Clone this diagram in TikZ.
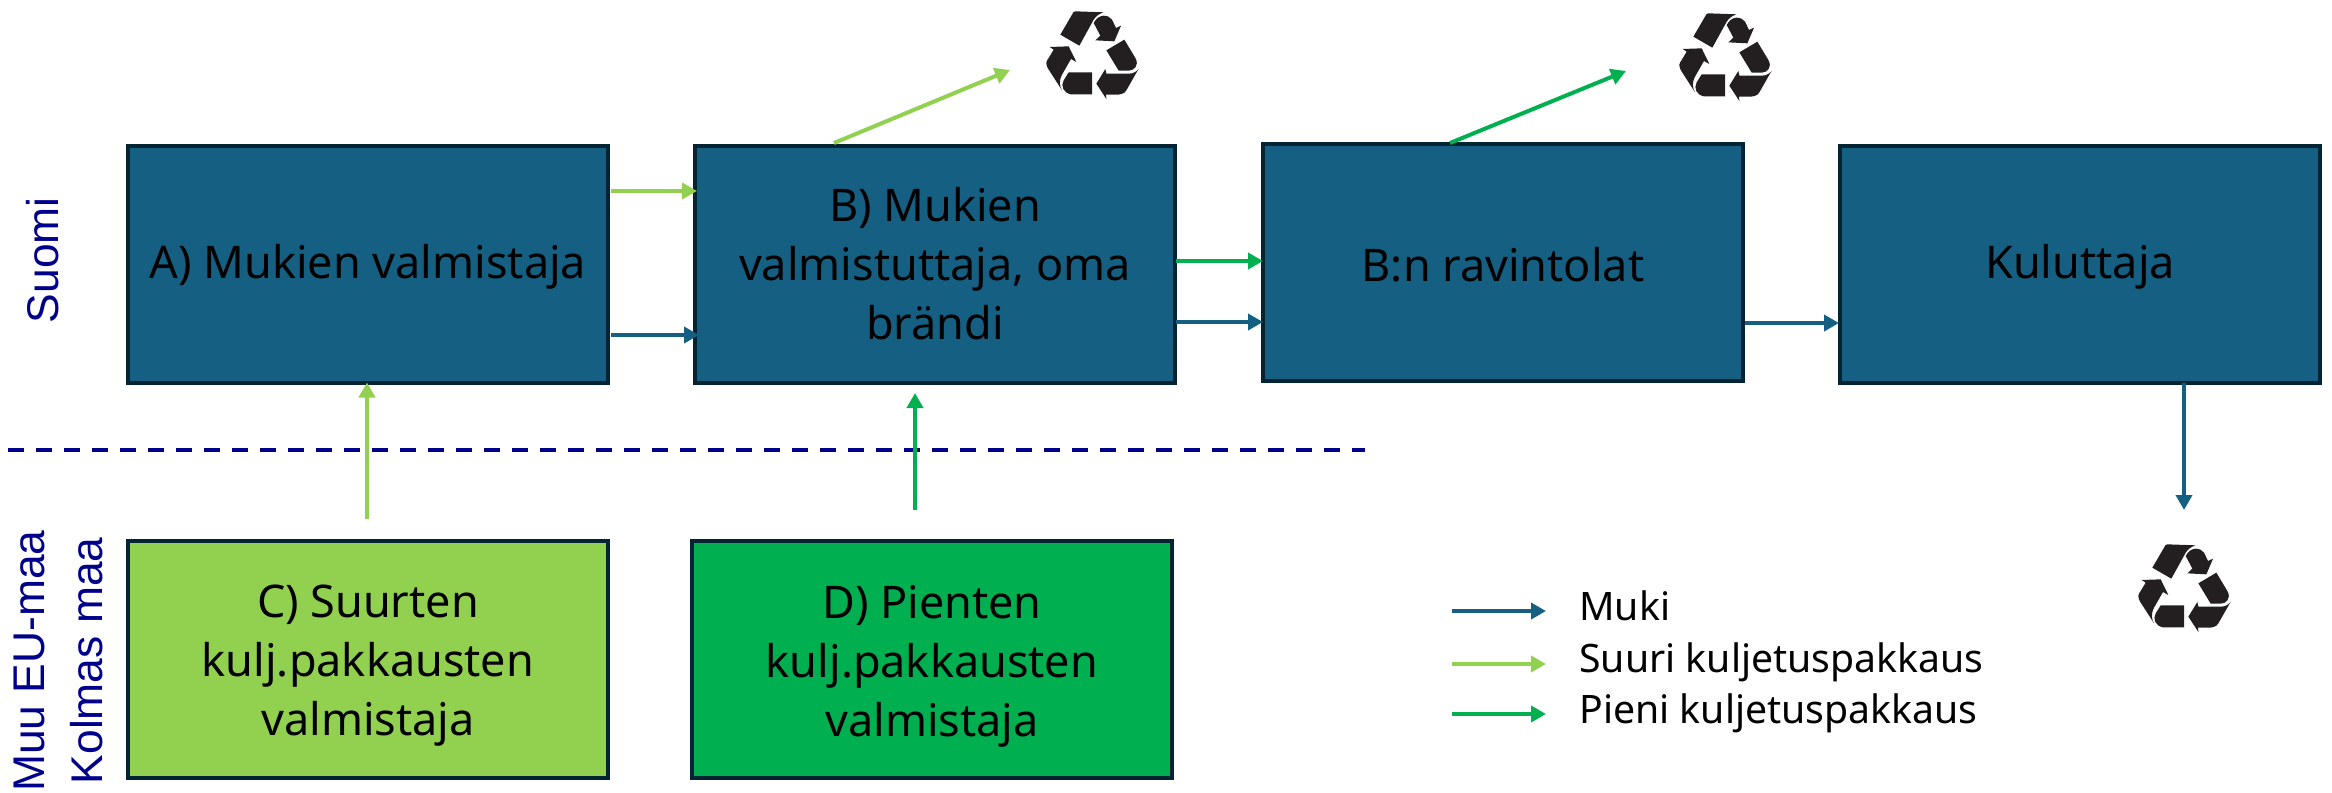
\documentclass[tikz,border=0pt]{standalone}
\usepackage{fontspec}
\usetikzlibrary{arrows.meta}
\setmainfont{Noto Sans}
\newfontfamily\sidefont{Liberation Sans}
\definecolor{boxblue}{HTML}{156082}
\definecolor{boxedge}{HTML}{042433}
\definecolor{lgreen}{HTML}{92D050}
\definecolor{dgreen}{HTML}{00B050}
\definecolor{navy}{HTML}{00008B}
\definecolor{icon}{HTML}{231F20}
\newcommand{\boxlines}[2]{\raisebox{-#1}[\height][\depth]{\parbox{232pt}{\centering #2}}}
\tikzset{
  x=0.5pt,y=-0.5pt,
  flowbox/.style={draw=boxedge,line width=2pt,minimum width=240pt,minimum height=118.5pt,inner sep=0pt,outer sep=0pt,
    font=\fontsize{22.5}{29.5}\selectfont,text=black},
  flow/.style={line width=2pt,-{Triangle[length=7.5pt,width=8pt]}},
  side/.style={rotate=90,anchor=base east,inner sep=0pt,text=navy,font=\sidefont\fontsize{22.2}{23}\selectfont},
  legendtext/.style={anchor=base west,inner sep=0pt,font=\fontsize{19.6}{22}\selectfont,text=black},
  recycle/.pic={
    \begin{scope}[x=0.1667pt,y=-0.1667pt,shift={(-275,-160)}]
    \fill[icon] (225,35) -- (310,38) .. controls (295,42) and (285,52) .. (280,60) -- (237,138) -- (180,105) -- (215,45) .. controls (218,38) and (221,35) .. (225,35) -- cycle;
    \fill[icon] (280,70) .. controls (295,40) and (325,45) .. (335,60) -- (347,85) -- (362,78) -- (342,125) -- (285,122) -- (300,108) -- cycle;
    \fill[icon] (372,120) -- (405,175) .. controls (418,198) and (400,213) .. (385,213) -- (355,213) -- (318,152) -- cycle;
    \fill[icon] (415,207) -- (378,272) .. controls (372,283) and (360,285) .. (345,285) -- (317,285) -- (318,298) -- (288,252) -- (315,208) -- (318,222) -- (385,222) .. controls (400,222) and (410,215) .. (415,207) -- cycle;
    \fill[icon] (205,218) -- (275,218) -- (275,284) -- (212,284) .. controls (190,280) and (180,260) .. (190,242) -- cycle;
    \fill[icon] (185,272) -- (142,205) .. controls (135,190) and (138,185) .. (145,175) -- (160,150) -- (148,142) -- (205,140) -- (228,187) -- (212,178) -- (185,225) .. controls (175,245) and (178,260) .. (185,272) -- cycle;
    \end{scope}
  }
}
\begin{document}
\begin{tikzpicture}
\useasboundingbox (0,0) rectangle (2332,792);
% boxes
\node[flowbox,fill=boxblue] (a) at (368,264) {\boxlines{1.5pt}{A) Mukien valmistaja}};
\node[flowbox,fill=boxblue] (b) at (935,264) {\boxlines{0pt}{B) Mukien\\valmistuttaja, oma\\brändi}};
\node[flowbox,fill=boxblue] (r) at (1503,262) {\boxlines{1.5pt}{B:n ravintolat}};
\node[flowbox,fill=boxblue] (k) at (2080,264) {\boxlines{1.5pt}{Kuluttaja}};
\node[flowbox,fill=lgreen] (c) at (368,659) {\boxlines{3.5pt}{C) Suurten\\kulj.pakkausten\\valmistaja}};
\node[flowbox,fill=dgreen] (d) at (932,659) {\boxlines{3.5pt}{D) Pienten\\kulj.pakkausten\\valmistaja}};
% side labels
\node[side] (s1) at (58,197) {Suomi};
\node[side] (s2) at (44,530) {Muu EU-maa};
\node[side] (s3) at (102,537) {Kolmas maa};
% dashed separator
\coordinate (dl) at (8,450);
\coordinate (dr) at (1365,450);
\draw[navy,line width=2pt,dash pattern=on 8pt off 6pt] (dl) -- (dr);
% icons
\pic (i1) at (1092,53) {recycle};
\pic (i2) at (1725,55) {recycle};
\pic (i3) at (2184,586) {recycle};
% free ends
\coordinate (e1) at (1010,70);
\coordinate (e2) at (1626,71);
\coordinate (e3) at (2184,510);
\coordinate (s4) at (834,143);
\coordinate (s5) at (1450,143);
% flows
\coordinate (f1) at (611,191); \coordinate (t1) at (697,191);
\coordinate (f2) at (611,335); \coordinate (t2) at (699,335);
\coordinate (f3) at (1176,261); \coordinate (t3) at (1263,261);
\coordinate (f4) at (1176,322); \coordinate (t4) at (1263,322);
\coordinate (f5) at (1745,323); \coordinate (t5) at (1839,323);
\draw[flow,lgreen] (f1) -- (t1);
\draw[flow,boxblue] (f2) -- (t2);
\draw[flow,dgreen] (f3) -- (t3);
\draw[flow,boxblue] (f4) -- (t4);
\draw[flow,boxblue] (f5) -- (t5);
\draw[flow,lgreen] (s4) -- (e1);
\draw[flow,dgreen] (s5) -- (e2);
\draw[flow,boxblue] (k.south -| e3) -- (e3);
\coordinate (u1) at (367,519);
\coordinate (u2) at (915,510);
\coordinate (u3) at (915,393);
\draw[flow,lgreen] (u1) -- (a.south -| u1);
\draw[flow,dgreen] (u2) -- (u3);
% legend
\node[legendtext] (l1) at (1579,620) {Muki};
\node[legendtext] (l2) at (1579,672) {Suuri kuljetuspakkaus};
\node[legendtext] (l3) at (1579,723) {Pieni kuljetuspakkaus};
\coordinate (la) at (1452,611); \coordinate (lb) at (1546,611);
\coordinate (lc) at (1452,664); \coordinate (ld) at (1546,664);
\coordinate (le) at (1452,714); \coordinate (lf) at (1546,714);
\draw[flow,boxblue] (la) -- (lb);
\draw[flow,lgreen] (lc) -- (ld);
\draw[flow,dgreen] (le) -- (lf);
\end{tikzpicture}
\end{document}
